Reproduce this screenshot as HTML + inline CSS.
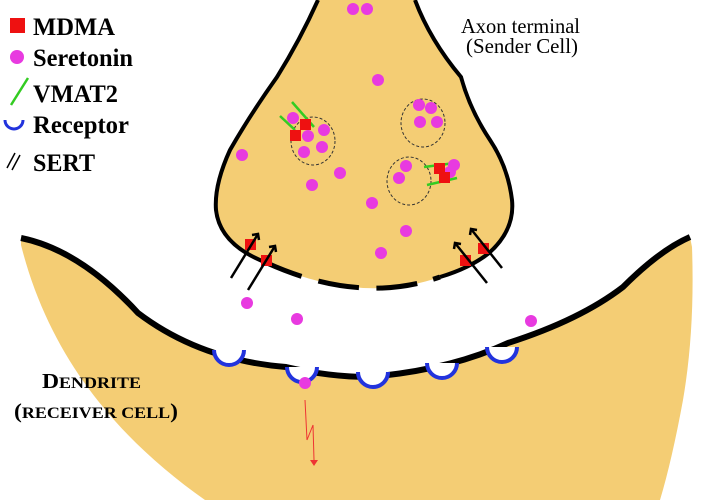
<!DOCTYPE html>
<html><head><style>body{margin:0;background:#fff;overflow:hidden}svg{display:block}</style></head><body>
<svg width="720" height="500" viewBox="0 0 720 500" xmlns="http://www.w3.org/2000/svg" font-family="Liberation Serif, serif">
<rect width="720" height="500" fill="#fff"/>
<!-- dendrite -->
<path d="M21,238 Q80,250 138,313 Q200,360 286,367 Q330,377 369,377 Q450,370 508,343 Q580,320 623,287 Q660,250 690,237 L692,247 Q695,330 683,400 Q672,460 660,500 L205,500 C120,440 50,360 21,245 Z" fill="#F4CD74"/>
<path d="M21,238 Q80,250 138,313 Q200,360 286,367 Q330,377 369,377 Q450,370 508,343 Q580,320 623,287 Q660,250 690,237" fill="none" stroke="#000" stroke-width="6"/>
<!-- axon -->
<path d="M318,0 Q300,40 277,77 Q250,115 230,150 Q214,185 216,210 Q220,245 267,263 Q360,305 440,277 Q470,268 489,253 Q515,230 512,200 Q508,167 490,140 Q470,110 461,77 Q430,40 415,0 Z" fill="#F4CD74"/>
<path d="M318,0 Q300,40 277,77 Q250,115 230,150 Q214,185 216,210 Q220,245 267,263" fill="none" stroke="#000" stroke-width="4"/>
<path d="M415,0 Q430,40 461,77 Q470,110 490,140 Q508,167 512,200 Q515,230 489,253 Q470,268 440,277" fill="none" stroke="#000" stroke-width="4"/>
<path d="M267,263 Q360,305 440,277" pathLength="173" fill="none" stroke="#000" stroke-width="5" stroke-dasharray="36,17,40,17,40,16,30"/>
<!-- receptors -->
<g fill="#fff" stroke="#2233dd" stroke-width="4">
<path d="M214,350 a15,15 0 0 0 30,0"/>
<path d="M287,367 a15,15 0 0 0 30,0"/>
<path d="M358,372 a15,15 0 0 0 30,0"/>
<path d="M427,363 a15,15 0 0 0 30,0"/>
<path d="M487,347 a15,15 0 0 0 30,0"/>
</g>
<!-- vesicles -->
<g fill="none" stroke="#333" stroke-width="1" stroke-dasharray="3,2">
<ellipse cx="313" cy="141" rx="22" ry="24"/><ellipse cx="423" cy="123" rx="22" ry="24"/><ellipse cx="409" cy="181" rx="22" ry="24"/>
</g>
<!-- VMAT2 -->
<g stroke="#33cc22" stroke-width="2.5">
<line x1="292" y1="102" x2="314" y2="127"/><line x1="280" y1="116" x2="295" y2="130"/>
<line x1="424" y1="167" x2="455" y2="163"/><line x1="427" y1="185" x2="457" y2="178"/>
</g>
<!-- serotonin -->
<g fill="#e83ae0">
<circle cx="353" cy="9" r="6"/><circle cx="367" cy="9" r="6"/><circle cx="378" cy="80" r="6"/>
<circle cx="242" cy="155" r="6"/><circle cx="293" cy="118" r="6"/><circle cx="308" cy="136" r="6"/><circle cx="324" cy="130" r="6"/><circle cx="304" cy="152" r="6"/><circle cx="322" cy="147" r="6"/>
<circle cx="340" cy="173" r="6"/><circle cx="312" cy="185" r="6"/><circle cx="372" cy="203" r="6"/><circle cx="406" cy="231" r="6"/><circle cx="381" cy="253" r="6"/>
<circle cx="419" cy="105" r="6"/><circle cx="431" cy="108" r="6"/><circle cx="420" cy="122" r="6"/><circle cx="437" cy="122" r="6"/>
<circle cx="406" cy="166" r="6"/><circle cx="399" cy="178" r="6"/><circle cx="454" cy="165" r="6"/><circle cx="450" cy="172" r="6"/>
<circle cx="247" cy="303" r="6"/><circle cx="297" cy="319" r="6"/><circle cx="531" cy="321" r="6"/><circle cx="305" cy="383" r="6"/>
</g>
<!-- MDMA -->
<g fill="#ee1111">
<rect x="300" y="119" width="11" height="11"/><rect x="290" y="130" width="11" height="11"/>
<rect x="434" y="163" width="11" height="11"/><rect x="439" y="172" width="11" height="11"/>
<rect x="245" y="239" width="11" height="11"/><rect x="261" y="255" width="11" height="11"/>
<rect x="478" y="243" width="11" height="11"/><rect x="460" y="255" width="11" height="11"/>
</g>
<!-- SERT arrows -->
<g stroke="#000" stroke-width="2.5" fill="none">
<line x1="231" y1="278" x2="258" y2="234"/><path d="M252,235 l6,-1 l1,6"/>
<line x1="248" y1="290" x2="275" y2="246"/><path d="M269,247 l6,-1 l1,6"/>
<line x1="502" y1="268" x2="471" y2="229"/><path d="M470,235 l1,-6 l6,1"/>
<line x1="487" y1="283" x2="455" y2="243"/><path d="M454,249 l1,-6 l6,1"/>
</g>
<!-- signal -->
<path d="M305,400 L307,440 L313,425 L314,460" fill="none" stroke="#e33" stroke-width="1"/>
<path d="M310,460 l4,6 l4,-6 z" fill="#e33"/>
<!-- legend -->
<rect x="10" y="18" width="15" height="15" fill="#ee1111"/>
<text x="33" y="35" font-size="25" font-weight="bold" textLength="82" lengthAdjust="spacingAndGlyphs">MDMA</text>
<circle cx="17" cy="57" r="7" fill="#e83ae0"/>
<text x="33" y="66" font-size="25" font-weight="bold" textLength="100" lengthAdjust="spacingAndGlyphs">Seretonin</text>
<line x1="11" y1="105" x2="28" y2="78" stroke="#33cc22" stroke-width="2.5"/>
<text x="33" y="102" font-size="25" font-weight="bold" textLength="85" lengthAdjust="spacingAndGlyphs">VMAT2</text>
<path d="M5,120 a9,9 0 0 0 18,0" fill="none" stroke="#2233dd" stroke-width="3"/>
<text x="33" y="133" font-size="25" font-weight="bold" textLength="96" lengthAdjust="spacingAndGlyphs">Receptor</text>
<g stroke="#000" stroke-width="1.5"><line x1="7" y1="168" x2="15" y2="153"/><line x1="12" y1="170" x2="20" y2="155"/></g>
<text x="33" y="171" font-size="25" font-weight="bold" textLength="62" lengthAdjust="spacingAndGlyphs">SERT</text>
<text x="461" y="33" font-size="21" textLength="119" lengthAdjust="spacingAndGlyphs">Axon terminal</text>
<text x="466" y="53" font-size="21" textLength="112" lengthAdjust="spacingAndGlyphs">(Sender Cell)</text>
<text x="42" y="388" font-size="21" font-weight="bold" textLength="99" lengthAdjust="spacingAndGlyphs">D<tspan font-size="16">ENDRITE</tspan></text>
<text x="14" y="418" font-size="21" font-weight="bold" textLength="164" lengthAdjust="spacingAndGlyphs">(<tspan font-size="16">RECEIVER CELL</tspan>)</text>
</svg>
</body></html>
